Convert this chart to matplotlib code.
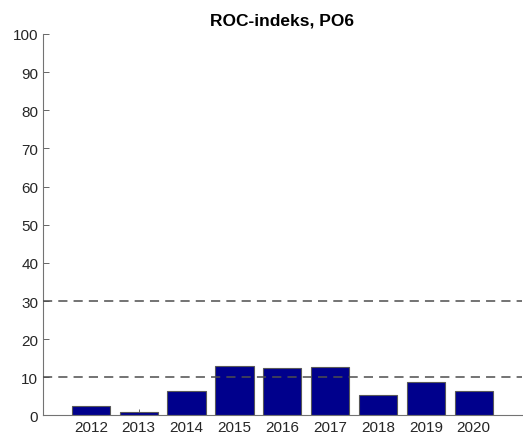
import matplotlib
matplotlib.use("Agg")
import matplotlib.pyplot as plt

plt.rcParams['font.family'] = ['Liberation Sans', 'DejaVu Sans']

years = [2012, 2013, 2014, 2015, 2016, 2017, 2018, 2019, 2020]
roc = [2.5, 0.8, 6.4, 13.0, 12.4, 12.6, 5.3, 8.8, 6.3]
limits = [10, 30]

fig = plt.figure(figsize=(5.23, 4.39), dpi=100)
ax = fig.add_axes([0.0822, 0.0513, 0.915, 0.869])

ax.bar(years, roc, width=0.8, color=(0, 0, 0.55), edgecolor=(0.35, 0.35, 0.35), linewidth=0.8, zorder=2)
for lim in limits:
    ax.axhline(lim, color=(0.3, 0.3, 0.3), linestyle=(0, (6, 4)), linewidth=1.1, zorder=3)

ax.set_xlim(2011, 2021)
ax.set_ylim(0, 100)
ax.set_xticks(years)
ax.set_yticks(range(0, 101, 10))
ax.tick_params(direction='in', length=4, width=0.7, color=(0.4, 0.4, 0.4), labelsize=11, labelcolor=(0.15, 0.15, 0.15))
for s in ['top', 'right']:
    ax.spines[s].set_visible(False)
for s in ['left', 'bottom']:
    ax.spines[s].set_color((0.45, 0.45, 0.45))
    ax.spines[s].set_linewidth(0.8)

ax.set_title('ROC-indeks, PO6', fontsize=12.5, fontweight='bold', pad=7)

fig.savefig('out.png', dpi=100)
